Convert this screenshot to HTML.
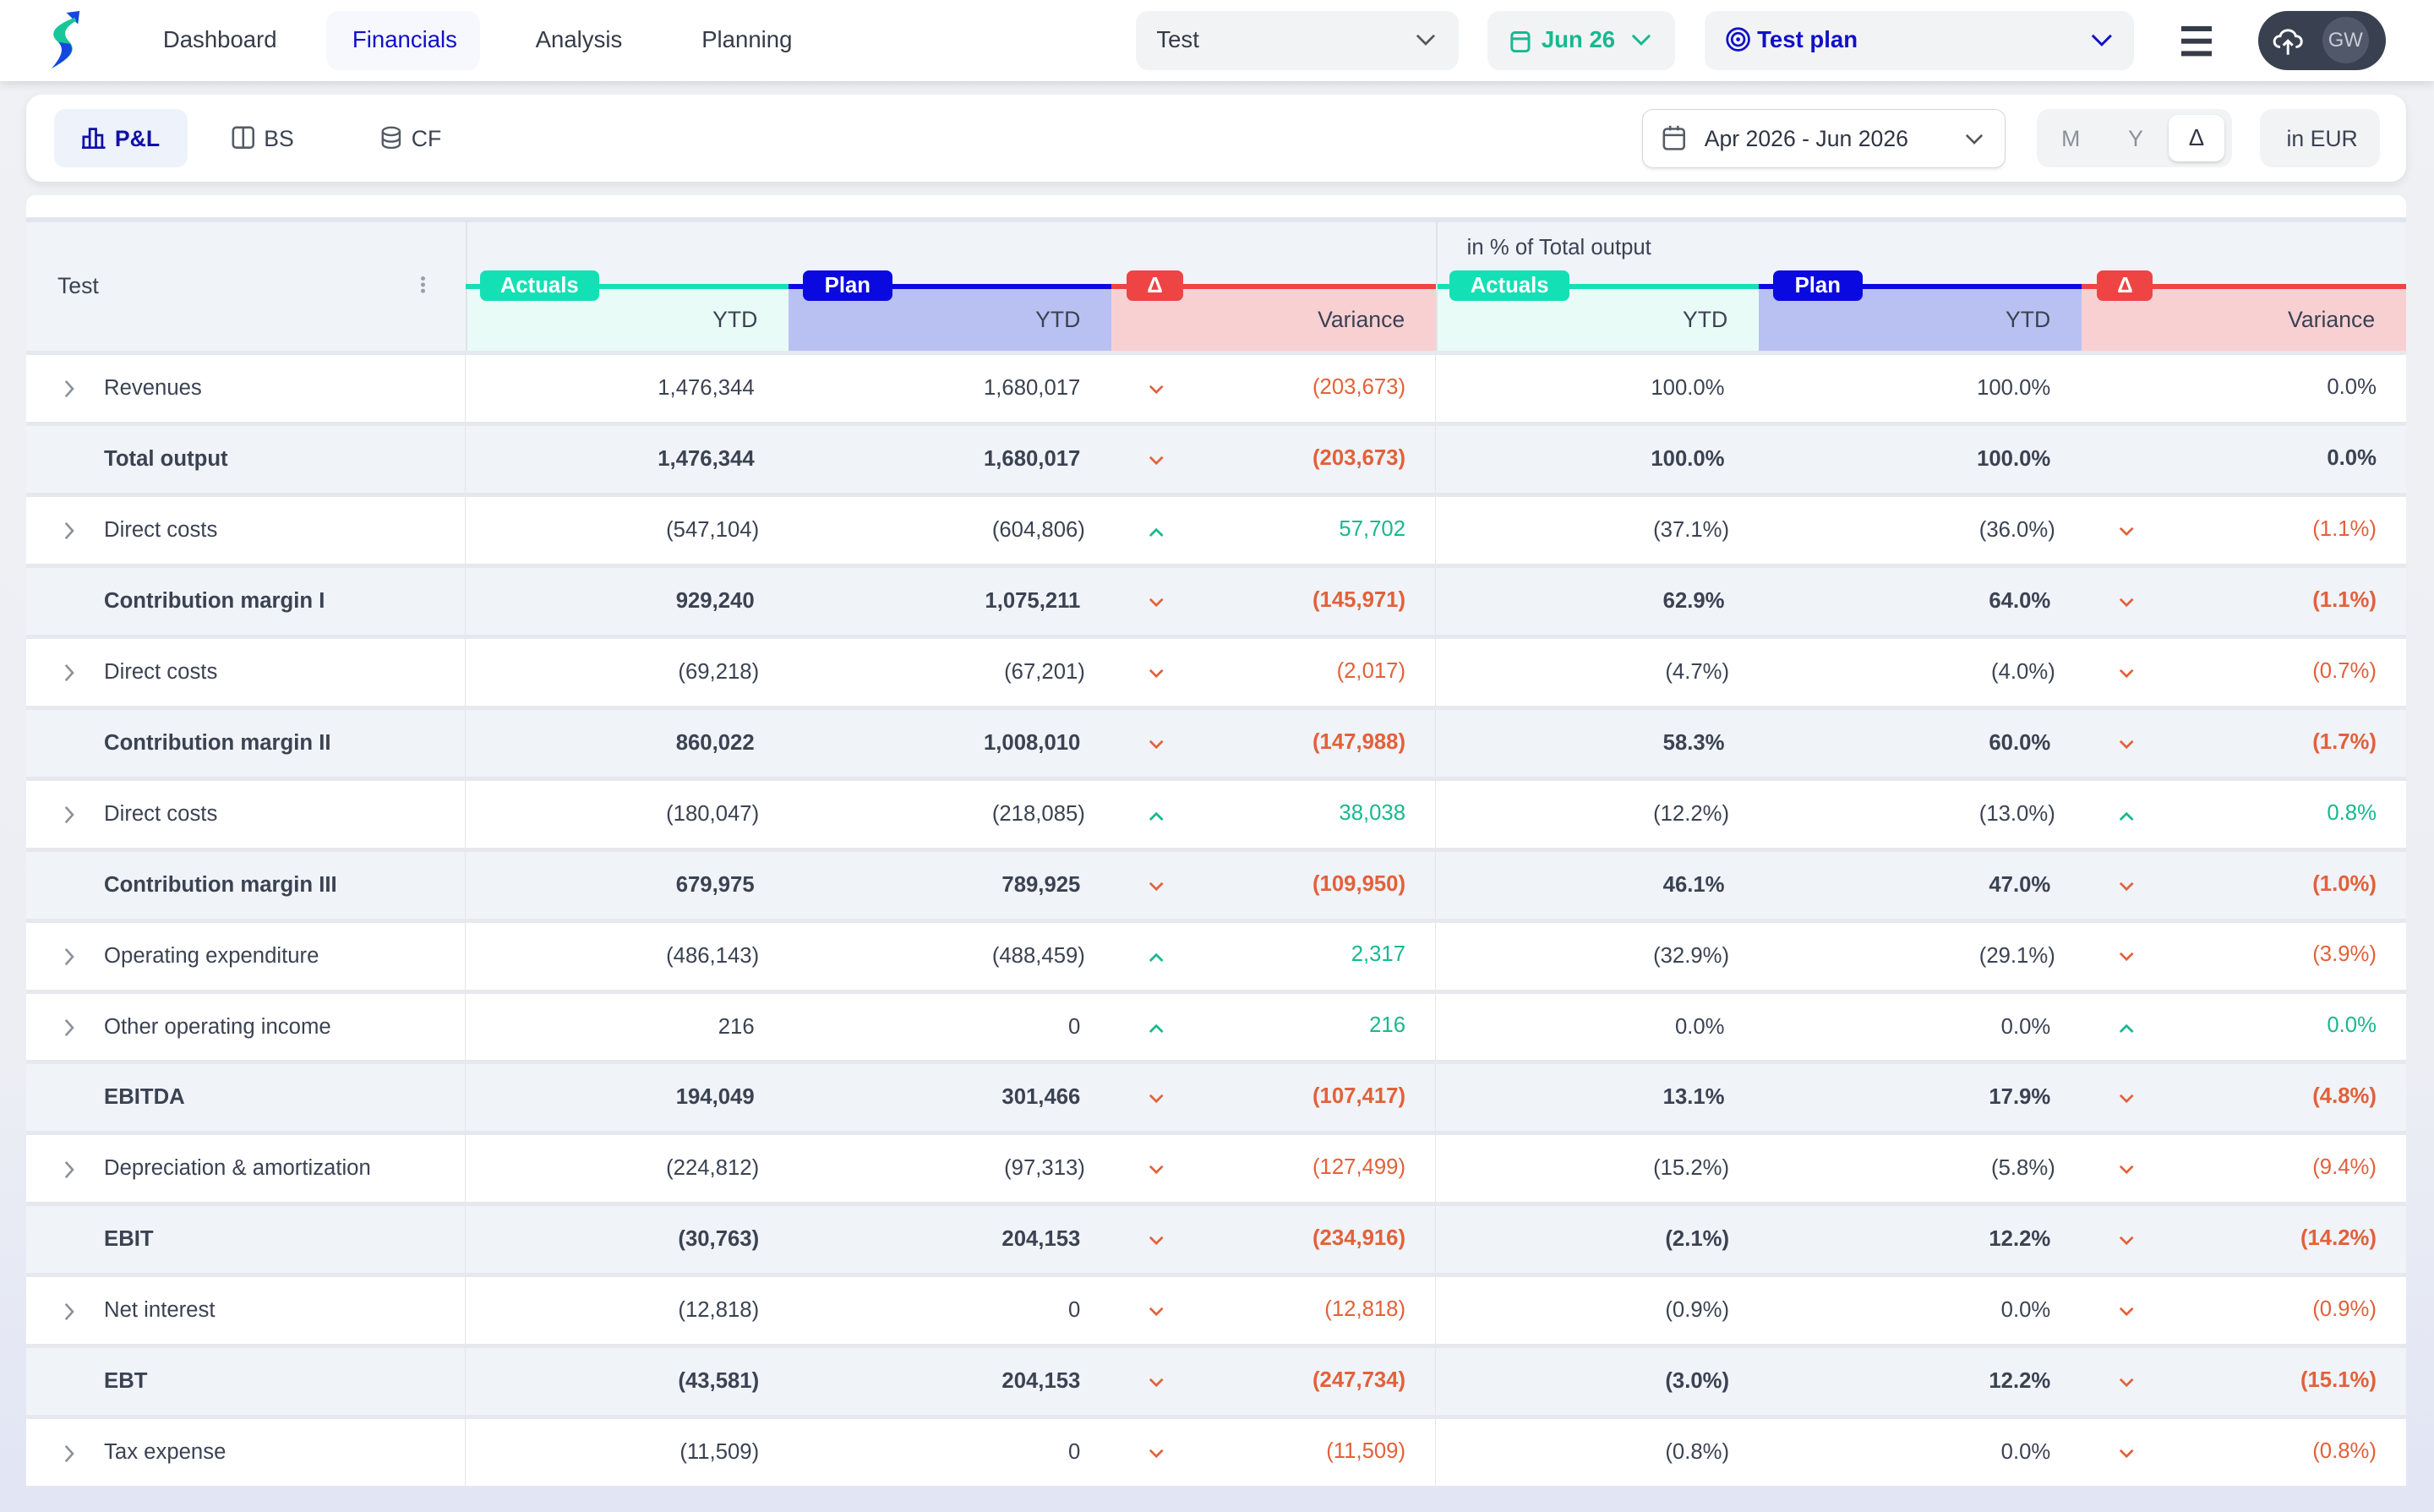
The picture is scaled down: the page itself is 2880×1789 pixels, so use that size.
<!DOCTYPE html>
<html><head><meta charset="utf-8">
<style>
html,body{margin:0;padding:0;}
body{width:1568px;height:974px;zoom:1.8367;overflow:hidden;background:linear-gradient(180deg,#f0f1f4 0%,#eceef4 70%,#e1e5f4 100%);font-family:"Liberation Sans",sans-serif;color:#3b4252;position:relative;}
.abs{position:absolute;}
.nav{left:0;top:0;width:1568px;height:52px;background:#fff;box-shadow:0 2px 6px rgba(0,0,0,.12);}
.ni{position:absolute;top:17px;font-size:15px;color:#353b48;}
.box{position:absolute;background:#f2f3f5;border-radius:8px;}
.card{background:#fff;border-radius:10px;}
.row{position:absolute;left:17px;width:1533px;height:43px;display:flex;align-items:center;font-size:14px;border-top:3px solid #e6e8ed;}
.row.t{background:#f0f3f8;font-weight:bold;}
.row.w{background:#fff;}
.c0{width:283px;height:100%;display:flex;align-items:center;border-right:1px solid #e3e5ea;box-sizing:border-box;position:relative;}
.c0 .lbl{position:absolute;left:50px;}
.c0 .ex{position:absolute;left:24px;top:16px;}
.cn{width:208px;text-align:right;box-sizing:border-box;}
.cv{width:209px;height:100%;position:relative;box-sizing:border-box;}
.cv .ar{position:absolute;left:24px;top:19px;}
.cv .v{position:absolute;right:19px;top:13px;}
.c3{border-right:1px solid #e3e5ea;}
.r{color:#e2613a;} .g{color:#17b890;}
.badge{position:absolute;top:174px;height:20px;border-radius:4px;color:#fff;font-weight:bold;font-size:14px;line-height:20px;text-align:center;}
.hl{position:absolute;top:183px;height:3px;}
.sub{position:absolute;top:186px;height:40px;font-size:14.5px;line-height:40px;text-align:right;box-sizing:border-box;padding-right:20px;color:#3b4252;}
</style></head><body>
<div class="abs nav">
  <svg class="abs" style="left:28px;top:7px" width="28" height="38" viewBox="0 0 24 36"><path d="M13 1 L21 0 L20 8 Z" fill="#1546e0"/><path d="M18 4 C5 9,2 14,8 19 C12 23,10 28,4 35 C13 30,20 25,15 19 C10 14,12 10,19 6Z" fill="#17c79a"/><path d="M8 19 C12 23,10 28,4 35 C13 30,19 25,15 20Z" fill="#1546e0"/></svg>
  <div class="ni" style="left:105px">Dashboard</div>
  <div class="box" style="left:210px;top:7px;width:99px;height:38px;background:#f6f8fd"></div>
  <div class="ni" style="left:227px;color:#1010c8">Financials</div>
  <div class="ni" style="left:345px">Analysis</div>
  <div class="ni" style="left:452px">Planning</div>
  <div class="box" style="left:732px;top:7px;width:208px;height:38px"></div>
  <div class="ni" style="left:745px">Test</div>
  <svg class="abs" style="left:912px;top:22px" width="13" height="8"><polyline points="1,1 6.5,6.5 12,1" fill="none" stroke="#555" stroke-width="1.5"/></svg>
  <div class="box" style="left:958px;top:7px;width:121px;height:38px"></div>
  <svg class="abs" style="left:973px;top:18px" width="13" height="16"><rect x="1" y="3" width="11" height="12" rx="2" fill="none" stroke="#17b890" stroke-width="1.6"/><line x1="1" y1="7" x2="12" y2="7" stroke="#17b890" stroke-width="1.6"/></svg>
  <div class="ni" style="left:993px;color:#17b890;font-weight:bold">Jun 26</div>
  <svg class="abs" style="left:1051px;top:22px" width="13" height="8"><polyline points="1,1 6.5,6.5 12,1" fill="none" stroke="#17b890" stroke-width="1.6"/></svg>
  <div class="box" style="left:1098px;top:7px;width:277px;height:38px"></div>
  <svg class="abs" style="left:1111px;top:17px" width="17" height="17"><circle cx="8.5" cy="8.5" r="7" fill="none" stroke="#1010c8" stroke-width="1.5"/><circle cx="8.5" cy="8.5" r="4" fill="none" stroke="#1010c8" stroke-width="1.5"/><circle cx="8.5" cy="8.5" r="1.3" fill="#1010c8"/></svg>
  <div class="ni" style="left:1132px;color:#1010c8;font-weight:bold">Test plan</div>
  <svg class="abs" style="left:1347px;top:22px" width="14" height="9"><polyline points="1,1 7,7 13,1" fill="none" stroke="#1010c8" stroke-width="1.6"/></svg>
  <div class="abs" style="left:1405px;top:17px;width:20px;height:3px;background:#353b48;box-shadow:0 8px 0 #353b48,0 16px 0 #353b48"></div>
  <div class="abs" style="left:1455px;top:7px;width:82px;height:38px;background:#39404f;border-radius:19px"></div>
  <svg class="abs" style="left:1463px;top:15px" width="22" height="22"><path d="M6 15 C1 15,1 8,6 8 C7 3,15 3,16 8 C21 8,21 15,16 15" fill="none" stroke="#fff" stroke-width="1.6"/><path d="M11 20 V11 M8 14 L11 11 L14 14" fill="none" stroke="#fff" stroke-width="1.6"/></svg>
  <div class="abs" style="left:1496px;top:11px;width:30px;height:30px;border-radius:15px;background:#50586a;color:#c8ccd4;font-size:13px;line-height:30px;text-align:center">GW</div>
</div>

<div class="abs card" style="left:17px;top:61px;width:1533px;height:56px;box-shadow:0 2px 6px rgba(0,0,0,.08)"></div>
<div class="abs" style="left:35px;top:70px;width:86px;height:38px;background:#eef2fb;border-radius:7px"></div>
<svg class="abs" style="left:53px;top:81px" width="16" height="15"><path d="M1 14 V7 H5 V14 M5 14 V2 H9 V14 M9 14 V6 H13 V14 M0 14 H15" fill="none" stroke="#1010a8" stroke-width="1.5"/></svg>
<div class="abs" style="left:74px;top:81px;font-size:14.5px;font-weight:bold;color:#1010a8">P&amp;L</div>
<svg class="abs" style="left:149px;top:81px" width="15" height="15"><rect x="1" y="1" width="13" height="13" rx="2" fill="none" stroke="#555b66" stroke-width="1.4"/><line x1="7.5" y1="1" x2="7.5" y2="14" stroke="#555b66" stroke-width="1.4"/></svg>
<div class="abs" style="left:170px;top:81px;font-size:14.5px;color:#3b4252">BS</div>
<svg class="abs" style="left:245px;top:81px" width="14" height="15"><ellipse cx="7" cy="3.5" rx="5.5" ry="2.5" fill="none" stroke="#555b66" stroke-width="1.3"/><path d="M1.5 3.5 V11.5 C1.5 15,12.5 15,12.5 11.5 V3.5 M1.5 7.5 C1.5 11,12.5 11,12.5 7.5" fill="none" stroke="#555b66" stroke-width="1.3"/></svg>
<div class="abs" style="left:265px;top:81px;font-size:14.5px;color:#3b4252">CF</div>
<div class="abs" style="left:1058px;top:70px;width:233px;height:37px;border:1px solid #d4d7dd;border-radius:7px;background:#fff;box-shadow:0 1px 2px rgba(0,0,0,.08)"></div>
<svg class="abs" style="left:1071px;top:80px" width="16" height="18"><rect x="1" y="3" width="13" height="13" rx="2" fill="none" stroke="#555b66" stroke-width="1.4"/><line x1="1" y1="7" x2="14" y2="7" stroke="#555b66" stroke-width="1.4"/><line x1="5" y1="1" x2="5" y2="4" stroke="#555b66" stroke-width="1.4"/><line x1="10" y1="1" x2="10" y2="4" stroke="#555b66" stroke-width="1.4"/></svg>
<div class="abs" style="left:1098px;top:81px;font-size:14.5px;color:#2f3542">Apr 2026 - Jun 2026</div>
<svg class="abs" style="left:1266px;top:86px" width="12" height="8"><polyline points="1,1 6,6 11,1" fill="none" stroke="#555" stroke-width="1.4"/></svg>
<div class="abs" style="left:1312px;top:70px;width:126px;height:38px;background:#f2f3f5;border-radius:8px"></div>
<div class="abs" style="left:1397px;top:74px;width:36px;height:30px;background:#fff;border-radius:6px;box-shadow:0 1px 2px rgba(0,0,0,.15)"></div>
<div class="abs" style="left:1328px;top:81px;font-size:14.5px;color:#8a909a">M</div>
<div class="abs" style="left:1371px;top:81px;font-size:14.5px;color:#8a909a">Y</div>
<div class="abs" style="left:1410px;top:80px;font-size:15px;color:#2f3542">Δ</div>
<div class="abs" style="left:1456px;top:70px;width:77px;height:38px;background:#f2f3f5;border-radius:8px"></div>
<div class="abs" style="left:1473px;top:81px;font-size:14.5px;color:#3b4252">in EUR</div>

<div class="abs" style="left:17px;top:126px;width:1533px;height:830px;background:#fff;border-radius:6px"></div>
<div class="abs" style="left:17px;top:140px;width:1533px;height:3px;background:#e1e6ee"></div>
<div class="abs" style="left:17px;top:143px;width:1533px;height:83px;background:#f0f3f8"></div>
<div class="abs" style="left:300px;top:143px;width:1px;height:83px;background:#e0e3e8"></div>
<div class="abs" style="left:925px;top:143px;width:1px;height:83px;background:#e0e3e8"></div>
<div class="abs" style="left:37px;top:176px;font-size:14.5px">Test</div>
<div class="abs" style="left:271px;top:178px;width:3px;height:3px;border-radius:2px;background:#9aa0aa;box-shadow:0 4px 0 #9aa0aa,0 8px 0 #9aa0aa"></div>
<div class="abs" style="left:945px;top:152px;font-size:14px">in % of Total output</div>

<div class="hl" style="left:300px;width:208px;background:#14e0b5"></div>
<div class="hl" style="left:508px;width:208px;background:#0a0ae0"></div>
<div class="hl" style="left:716px;width:209px;background:#ee4444"></div>
<div class="hl" style="left:926px;width:207px;background:#14e0b5"></div>
<div class="hl" style="left:1133px;width:208px;background:#0a0ae0"></div>
<div class="hl" style="left:1341px;width:209px;background:#ee4444"></div>
<div class="sub" style="left:301px;width:207px;background:#e9fbf6">YTD</div>
<div class="sub" style="left:508px;width:208px;background:#b9c1f3">YTD</div>
<div class="sub" style="left:716px;width:209px;background:#f9d0d2">Variance</div>
<div class="sub" style="left:926px;width:207px;background:#e9fbf6">YTD</div>
<div class="sub" style="left:1133px;width:208px;background:#b9c1f3">YTD</div>
<div class="sub" style="left:1341px;width:209px;background:#f9d0d2">Variance</div>
<div class="badge" style="left:309px;width:77px;background:#14e0b5">Actuals</div>
<div class="badge" style="left:517px;width:58px;background:#0a0ae0">Plan</div>
<div class="badge" style="left:726px;width:36px;background:#ee4444">Δ</div>
<div class="badge" style="left:934px;width:77px;background:#14e0b5">Actuals</div>
<div class="badge" style="left:1142px;width:58px;background:#0a0ae0">Plan</div>
<div class="badge" style="left:1351px;width:36px;background:#ee4444">Δ</div>

<div id="rows"></div>
<script>
var D=[
["Revenues",1,"1,476,344","1,680,017","d","(203,673)","r","100.0%","100.0%","","0.0%",""],
["Total output",0,"1,476,344","1,680,017","d","(203,673)","r","100.0%","100.0%","","0.0%",""],
["Direct costs",1,"(547,104)","(604,806)","u","57,702","g","(37.1%)","(36.0%)","d","(1.1%)","r"],
["Contribution margin I",0,"929,240","1,075,211","d","(145,971)","r","62.9%","64.0%","d","(1.1%)","r"],
["Direct costs",1,"(69,218)","(67,201)","d","(2,017)","r","(4.7%)","(4.0%)","d","(0.7%)","r"],
["Contribution margin II",0,"860,022","1,008,010","d","(147,988)","r","58.3%","60.0%","d","(1.7%)","r"],
["Direct costs",1,"(180,047)","(218,085)","u","38,038","g","(12.2%)","(13.0%)","u","0.8%","g"],
["Contribution margin III",0,"679,975","789,925","d","(109,950)","r","46.1%","47.0%","d","(1.0%)","r"],
["Operating expenditure",1,"(486,143)","(488,459)","u","2,317","g","(32.9%)","(29.1%)","d","(3.9%)","r"],
["Other operating income",1,"216","0","u","216","g","0.0%","0.0%","u","0.0%","g"],
["EBITDA",0,"194,049","301,466","d","(107,417)","r","13.1%","17.9%","d","(4.8%)","r"],
["Depreciation & amortization",1,"(224,812)","(97,313)","d","(127,499)","r","(15.2%)","(5.8%)","d","(9.4%)","r"],
["EBIT",0,"(30,763)","204,153","d","(234,916)","r","(2.1%)","12.2%","d","(14.2%)","r"],
["Net interest",1,"(12,818)","0","d","(12,818)","r","(0.9%)","0.0%","d","(0.9%)","r"],
["EBT",0,"(43,581)","204,153","d","(247,734)","r","(3.0%)","12.2%","d","(15.1%)","r"],
["Tax expense",1,"(11,509)","0","d","(11,509)","r","(0.8%)","0.0%","d","(0.8%)","r"]];
function ar(t){if(!t)return"";var c=t=="u"?"#17b890":"#e2613a";var p=t=="u"?"1,6 5,2 9,6":"1,1 5,5 9,1";return '<svg class="ar" width="10" height="7"><polyline points="'+p+'" fill="none" stroke="'+c+'" stroke-width="1.5"/></svg>';}
function num(s,pr){var pad=s.charAt(s.length-1)==")"?pr:pr+3;return '<div class="cn" style="padding-right:'+pad+'px">'+s+'</div>';}
var h="";
D.forEach(function(d,i){var top=226+i*45.7;
h+='<div class="row '+(d[1]?"w":"t")+'" style="top:'+top+'px">'+
'<div class="c0">'+(d[1]?'<svg class="ex" width="8" height="12"><polyline points="1.5,1 6,6 1.5,11" fill="none" stroke="#8a909a" stroke-width="1.4"/></svg>':'')+'<span class="lbl">'+d[0].replace("&","&amp;")+'</span></div>'+
num(d[2],19)+num(d[3],17)+
'<div class="cv c3">'+ar(d[4])+'<span class="v '+d[6]+'">'+d[5]+'</span></div>'+
num(d[7],19)+num(d[8],17)+
'<div class="cv">'+ar(d[9])+'<span class="v '+d[11]+'">'+d[10]+'</span></div></div>';});
document.getElementById("rows").innerHTML=h;
</script>
</body></html>
